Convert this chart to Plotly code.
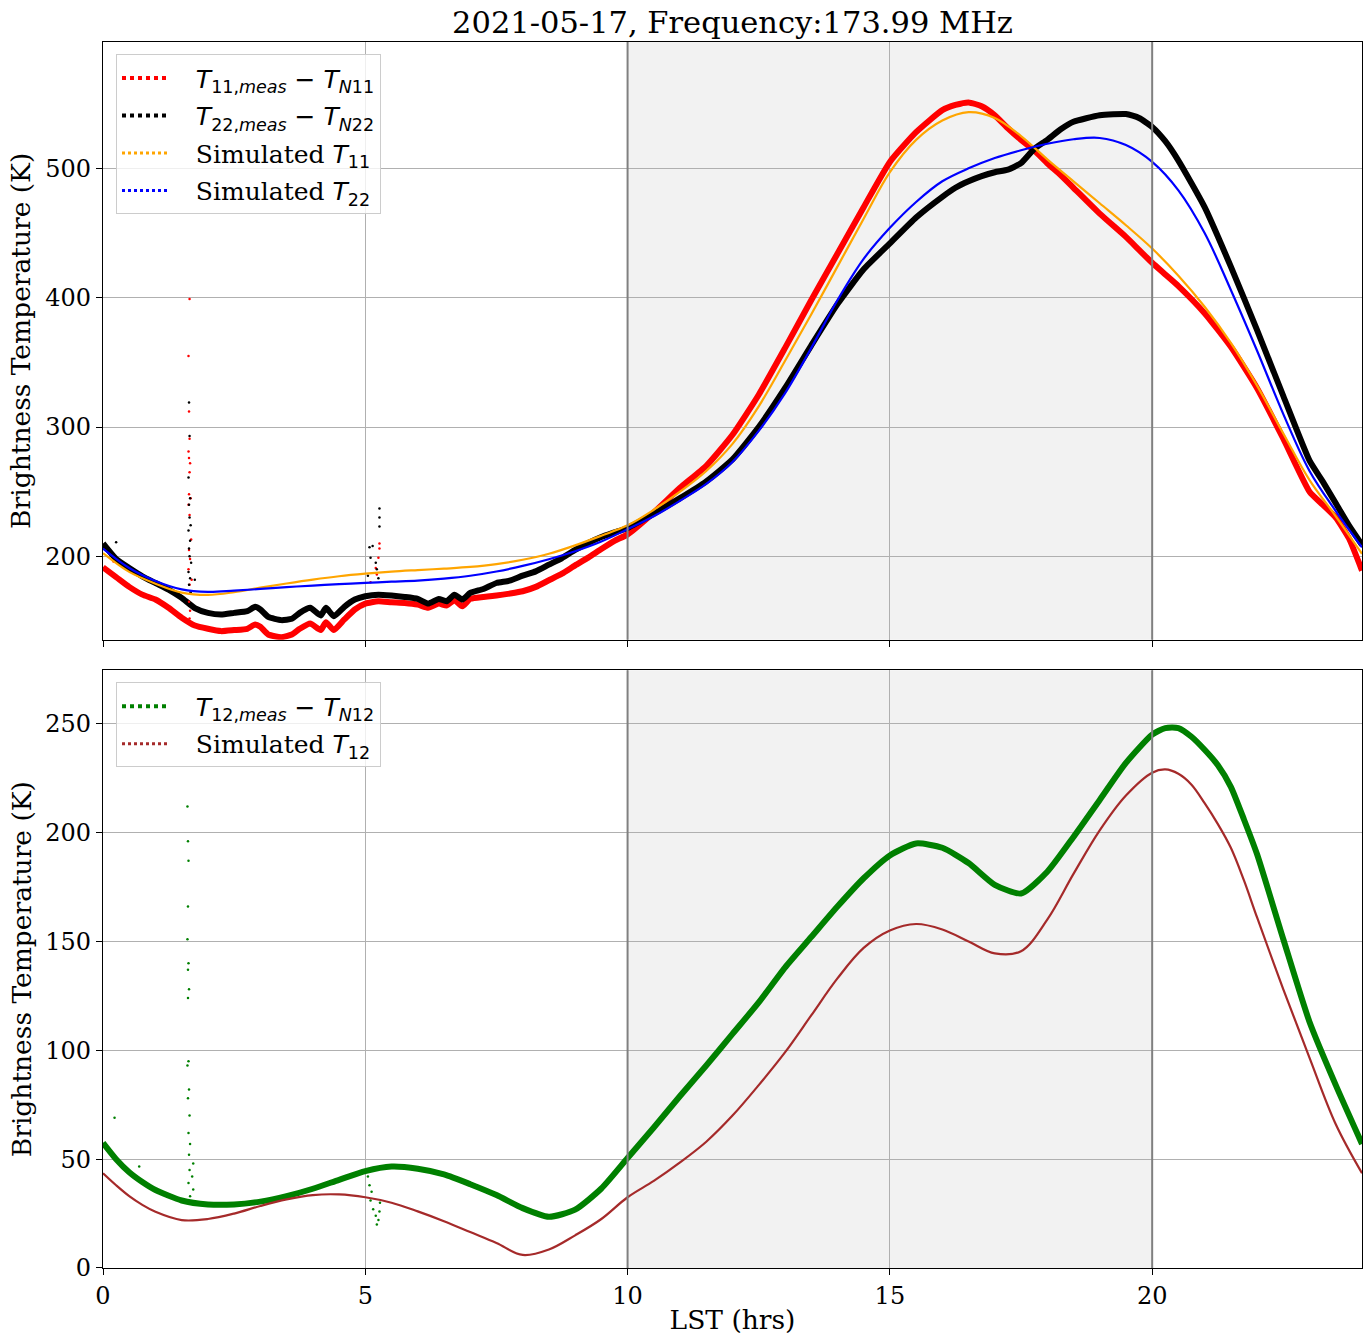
import plotly.graph_objects as go
from plotly.subplots import make_subplots

# ---------------- data ----------------
lst_meas_top = [0, 0.25, 0.5, 0.75, 1.0, 1.25, 1.5, 1.75, 2.0, 2.25, 2.5, 2.75, 2.9, 3.0,
                3.15, 3.4, 3.6, 3.75, 3.95, 4.15, 4.25, 4.4, 4.6, 4.8, 5.0, 5.25, 5.5, 5.75,
                6.0, 6.2, 6.4, 6.55, 6.7, 6.85, 7.0, 7.25, 7.5, 7.75, 8.0, 8.25, 8.5, 8.75,
                9.0, 9.25, 9.5, 9.75, 10.0, 10.5, 11.0, 11.5, 12.0, 12.5, 13.0, 13.5, 14.0,
                14.5, 15.0, 15.5, 16.0, 16.25, 16.5, 16.75, 17.0, 17.25, 17.5, 17.75, 18.0,
                18.25, 18.5, 19.0, 19.5, 19.75, 20.0, 20.25, 20.5, 21.0, 21.5, 22.0, 22.5,
                23.0, 23.25, 23.5, 23.75, 24.0]

t11_meas = [191.5, 184, 176.4, 170.4, 166.6, 160.2, 152.5, 146.5, 144, 142.2, 143, 144, 147.3, 145.5,
            139.6, 137.5, 139.6, 144, 148.1, 143, 149.1, 143, 151.2, 158.9, 163.5, 165.3, 164.5, 164,
            162.7, 160.2, 163.5, 162, 166.1, 161.4, 167.1, 168.6, 169.7, 171.2, 173, 176.4, 181.5, 186.6,
            193, 199, 205.7, 212, 217, 234, 253, 270, 294, 325, 361, 398, 434,
            470, 505, 528, 545, 549, 551, 548, 541, 531, 522, 514, 504,
            495, 485, 465, 447, 437, 427, 418, 409, 388, 362, 330, 291,
            250, 240, 230, 214, 189]

t22_meas = [210, 198, 191, 184.6, 179.4, 174.3, 167.9, 160, 156.3, 155, 156.3, 157.6, 161, 158.9,
            153.2, 150.7, 151.7, 156.3, 160.2, 154.3, 160.2, 153.7, 161, 166.6, 169.2, 170.4, 169.7, 168.6,
            167.1, 163.5, 167.1, 165.3, 170.4, 166.6, 171.7, 174.8, 179.4, 181.2, 185.1, 188.4, 193.6, 198.7,
            205, 210.3, 214.9, 218.5, 222, 233, 245, 258, 275, 300, 330, 363, 395,
            422, 442, 462, 478, 485, 490, 494, 497, 499, 504, 515, 522,
            530, 536, 541, 542, 539, 532, 521, 506, 470, 424, 375, 324,
            274, 258, 241, 224, 209]

lst_sim = [0, 0.5, 1, 1.5, 2, 2.5, 3, 3.5, 4, 4.5, 5, 5.5, 6, 6.5, 7, 7.5, 8, 8.5, 9, 9.5,
           10, 10.5, 11, 11.5, 12, 12.5, 13, 13.5, 14, 14.5, 15, 15.5, 16, 16.5, 17, 17.5,
           18, 18.5, 19, 19.5, 20, 20.5, 21, 21.5, 22, 22.5, 23, 23.5, 24]

t11_sim = [202.5, 188, 178.9, 172, 170.2, 172.3, 175.8, 179, 182, 184.6, 186.6, 188.2, 189.4, 190.5,
           191.8, 194, 197.4, 202, 208.5, 216, 224, 236, 250, 266, 287, 316, 351, 387, 424, 461,
           497, 522, 537, 543.5, 539, 525, 507, 490, 473, 456, 438, 417, 393, 365, 332, 295,
           259, 231, 202]

t22_sim = [206, 191, 181, 174.5, 172.5, 173.5, 174.8, 176.2, 177.4, 178.5, 179.5, 180.4, 181.3, 182.8,
           185, 188.3, 192.6, 197.8, 204, 211.5, 221, 231, 243, 256, 273, 297, 326, 361, 398, 430,
           454, 474, 490, 500, 508, 514, 519, 522.5, 523.5, 518, 505, 483, 450, 406, 359, 310,
           266, 235, 207]

# outlier spikes (RFI) in the top panel
spike_lst_11 = [1.65, 1.63, 1.64, 1.65, 1.63, 1.64, 1.66, 1.65, 1.64, 1.67, 1.63, 1.65, 1.68, 1.64,
                1.66, 1.63, 1.69, 1.65, 1.67, 1.64, 1.66, 1.65, 1.70, 0.2,
                5.27, 5.27, 5.25, 5.20, 5.22, 5.10]
spike_t11 = [399, 355, 312, 291, 281, 276, 272, 265, 248, 245, 240, 232, 213, 205,
             198, 190, 182, 178, 172, 165, 158, 152, 148, 196,
             210, 206, 199, 191, 186, 180]
spike_lst_22 = [1.64, 1.65, 1.63, 1.66, 1.64, 1.65, 1.67, 1.63, 1.66, 1.64, 1.65, 1.68, 1.63, 1.66,
                1.75, 1.64, 1.67, 0.25,
                5.27, 5.27, 5.27, 5.08, 5.14, 5.10, 5.20, 5.22, 5.05, 5.25]
spike_t22 = [319, 293, 261, 245, 240, 230, 224, 220, 212, 206, 200, 195, 188, 183,
             182, 178, 172, 211,
             237, 230, 223, 207, 208, 199, 195, 190, 185, 183]

lst_bot = [0, 0.25, 0.5, 0.75, 1.0, 1.5, 2.0, 2.5, 3.0, 3.5, 4.0, 4.5, 5.0, 5.5, 6.0, 6.5, 7.0,
           7.5, 8.0, 8.5, 9.0, 9.5, 10.0, 10.5, 11.0, 11.5, 12.0, 12.5, 13.0, 13.5, 14.0, 14.5,
           15.0, 15.5, 16.0, 16.5, 17.0, 17.5, 18.0, 18.5, 19.0, 19.5, 20.0, 20.25, 20.5, 20.75,
           21.0, 21.25, 21.5, 21.75, 22.0, 22.5, 23.0, 23.5, 24.0]

t12_meas = [57.5, 50, 44, 39.5, 35.8, 31, 29.2, 29.2, 30.5, 33, 36.4, 40.5, 44.5, 46.6, 45.6, 43, 38.5,
            33.5, 27.5, 23.5, 26.8, 36.5, 50.5, 64.5, 79, 93, 107.5, 122, 138, 152, 166, 179,
            189.5, 195, 193, 186, 176, 172, 182, 198, 215, 232, 245, 248, 248, 244,
            238, 231, 221, 206, 190, 151, 113, 84, 57]

t12_sim = [43.5, 38, 33, 29, 25.8, 22, 22.5, 25, 28.5, 31.5, 33.5, 33.8, 32.5, 30, 26, 21.5, 16.5,
           11.5, 6, 8.5, 15, 22.5, 32.5, 40, 48.5, 58, 70, 84, 99, 116, 133, 147,
           155, 158, 155.5, 150, 144.5, 145.5, 160, 181, 201, 217, 227.5, 229, 227, 222,
           213.5, 204, 193, 178, 161, 128, 96.5, 66, 43.5]

spike_lst_12 = [1.61, 1.62, 1.63, 1.62, 1.61, 1.63, 1.62, 1.64, 1.62, 1.63, 1.61, 1.64, 1.62, 1.65,
                1.63, 1.66, 1.64, 1.72, 1.65, 1.70, 1.63, 1.72, 1.66, 0.22, 0.69,
                5.05, 5.08, 5.12, 5.10, 5.15, 5.20, 5.22, 5.25, 5.28, 5.27]
spike_t12 = [212, 196, 187, 166, 151, 140, 137, 128, 124, 95, 93, 82, 78, 70,
             62, 57, 52, 48, 45, 42, 39, 36, 33, 69, 46.6,
             42, 38, 35, 31, 27, 24, 20, 22, 30, 26]

title_text = "2021-05-17, Frequency:173.99 MHz"
ylabel = "Brightness Temperature (K)"
xlabel = "LST (hrs)"
x_ticks = [0, 5, 10, 15, 20]
y_ticks_top = [200, 300, 400, 500]
y_ticks_bot = [0, 50, 100, 150, 200, 250]

# ---------------- figure ----------------
SERIF = "DejaVu Serif"
MS = "font-family:'DejaVu Sans'"
TICK_FS = 24
LAB_FS = 26.5
LEG_FS = 25
PAD = "\u00a0\u00a0\u00a0"

def m(s):
    return f"<span style=\"{MS}\">{s}</span>"

lab11 = PAD + m("<i>T</i><sub>11,<i>meas</i></sub> \u2212 <i>T</i><sub><i>N</i>11</sub>")
lab22 = PAD + m("<i>T</i><sub>22,<i>meas</i></sub> \u2212 <i>T</i><sub><i>N</i>22</sub>")
lab12 = PAD + m("<i>T</i><sub>12,<i>meas</i></sub> \u2212 <i>T</i><sub><i>N</i>12</sub>")
labs11 = PAD + "Simulated " + m("<i>T</i><sub>11</sub>")
labs22 = PAD + "Simulated " + m("<i>T</i><sub>22</sub>")
labs12 = PAD + "Simulated " + m("<i>T</i><sub>12</sub>")

W, H = 1370, 1335
TOP, BOT = 41.5, H - 1267.7
PLOT_H = H - TOP - BOT
fig = make_subplots(rows=2, cols=1, shared_xaxes=True, vertical_spacing=(670 - 639.3) / PLOT_H)

RED, BLACK, ORANGE, BLUE, GREEN, BROWN = "#ff0000", "#000000", "#ffa500", "#0000ff", "#008000", "#a52a2a"

# top panel data
fig.add_trace(go.Scatter(x=lst_meas_top, y=t11_meas, mode="lines", line=dict(color=RED, width=6, shape="spline", smoothing=0.5),
                         showlegend=False, hoverinfo="skip"), row=1, col=1)
fig.add_trace(go.Scatter(x=lst_meas_top, y=t22_meas, mode="lines", line=dict(color=BLACK, width=6, shape="spline", smoothing=0.5),
                         showlegend=False, hoverinfo="skip"), row=1, col=1)
fig.add_trace(go.Scatter(x=spike_lst_11, y=spike_t11, mode="markers", marker=dict(color=RED, size=2.5),
                         showlegend=False, hoverinfo="skip"), row=1, col=1)
fig.add_trace(go.Scatter(x=spike_lst_22, y=spike_t22, mode="markers", marker=dict(color=BLACK, size=2.5),
                         showlegend=False, hoverinfo="skip"), row=1, col=1)
fig.add_trace(go.Scatter(x=lst_sim, y=t11_sim, mode="lines", line=dict(color=ORANGE, width=2.2, shape="spline"),
                         showlegend=False, hoverinfo="skip"), row=1, col=1)
fig.add_trace(go.Scatter(x=lst_sim, y=t22_sim, mode="lines", line=dict(color=BLUE, width=2.2, shape="spline"),
                         showlegend=False, hoverinfo="skip"), row=1, col=1)

# bottom panel data
fig.add_trace(go.Scatter(x=lst_bot, y=t12_meas, mode="lines", line=dict(color=GREEN, width=6, shape="spline", smoothing=0.6),
                         showlegend=False, hoverinfo="skip"), row=2, col=1)
fig.add_trace(go.Scatter(x=spike_lst_12, y=spike_t12, mode="markers", marker=dict(color=GREEN, size=2.5),
                         showlegend=False, hoverinfo="skip"), row=2, col=1)
fig.add_trace(go.Scatter(x=lst_bot, y=t12_sim, mode="lines", line=dict(color=BROWN, width=2.2, shape="spline"),
                         showlegend=False, hoverinfo="skip"), row=2, col=1)

# legend entries
for lab, col, lg, w in [(lab11, RED, "legend", 4), (lab22, BLACK, "legend", 4), (labs11, ORANGE, "legend", 3),
                        (labs22, BLUE, "legend", 3), (lab12, GREEN, "legend2", 4), (labs12, BROWN, "legend2", 3)]:
    r = 1 if lg == "legend" else 2
    fig.add_trace(go.Scatter(x=[None], y=[None], mode="lines", name=lab, legend=lg, legendgroup=lab,
                             line=dict(color=col, width=w, dash="dot")), row=r, col=1)

axis_common = dict(showline=True, linecolor="black", linewidth=1.2, mirror=True, ticks="outside",
                   ticklen=6, tickwidth=1.2, tickcolor="black", showgrid=True, gridcolor="#b0b0b0",
                   gridwidth=1, zeroline=False, automargin=False,
                   tickfont=dict(family=SERIF, size=TICK_FS, color="black"))

fig.update_xaxes(range=[0, 24], tickvals=x_ticks, **axis_common)
fig.update_xaxes(showticklabels=False, row=1, col=1)
fig.update_xaxes(title=dict(text=xlabel, font=dict(family=SERIF, size=LAB_FS, color="black"), standoff=2), row=2, col=1)
fig.update_yaxes(**axis_common)
fig.update_yaxes(range=[135.6, 597.7], tickvals=y_ticks_top, row=1, col=1,
                 title=dict(text=ylabel, font=dict(family=SERIF, size=LAB_FS, color="black"), standoff=6))
fig.update_yaxes(range=[0, 274.5], tickvals=y_ticks_bot, row=2, col=1,
                 title=dict(text=ylabel, font=dict(family=SERIF, size=LAB_FS, color="black"), standoff=6))

# shaded band and vertical lines
for xr, yref in [("x", "y domain"), ("x2", "y2 domain")]:
    fig.add_shape(type="rect", xref=xr, yref=yref, x0=10, x1=20, y0=0, y1=1,
                  fillcolor="#f2f2f2", line_width=0, layer="below")
    for xv in [10, 20]:
        fig.add_shape(type="line", xref=xr, yref=yref, x0=xv, x1=xv, y0=0, y1=1,
                      line=dict(color="#808080", width=2), layer="above")

legend_common = dict(bgcolor="rgba(255,255,255,0.8)", bordercolor="#cccccc", borderwidth=1,
                     font=dict(family=SERIF, size=LEG_FS, color="black"), xanchor="left", yanchor="top",
                     tracegroupgap=2, itemwidth=45)

fig.update_layout(
    width=W, height=H,
    margin=dict(l=103, r=8, t=TOP, b=BOT, autoexpand=False),
    paper_bgcolor="white", plot_bgcolor="white",
    font=dict(family=SERIF, size=TICK_FS, color="black"),
    title=dict(text=title_text, x=0.5, xref="paper", xanchor="center", y=1 - 22 / H, yref="container",
               yanchor="middle", font=dict(family=SERIF, size=30.5, color="black")),
    legend=dict(x=13 / 1259, y=1 - (54 - 41.7) / PLOT_H, **legend_common),
    legend2=dict(x=13 / 1259, y=(1267.7 - 682) / PLOT_H, **legend_common),
)

# remove the default page margin so the figure sits at the window's top-left corner
fig.write_html("out.html", config={"displayModeBar": False},
               post_script="document.body.style.margin='0px';document.body.style.overflow='hidden';")
